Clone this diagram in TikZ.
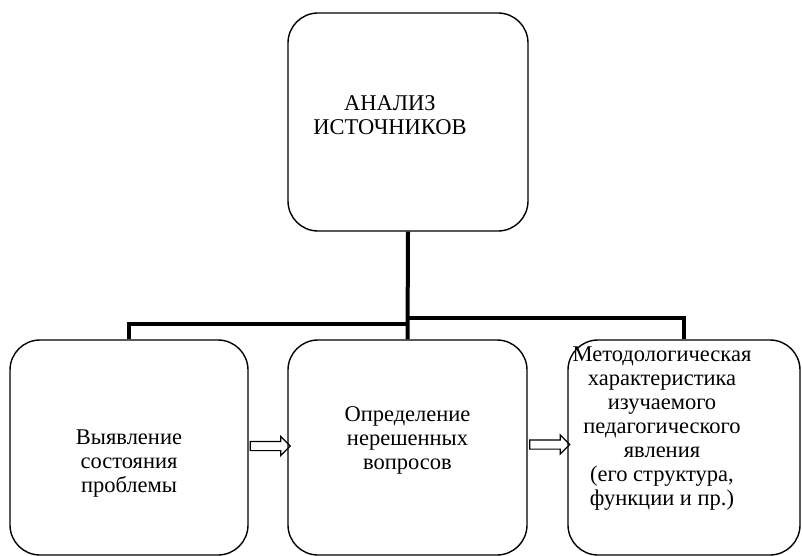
\documentclass[tikz,border=0pt]{standalone}
\usepackage{fontspec}
\setmainfont{Liberation Serif}
\usepackage{tikz}
\usetikzlibrary{arrows.meta,positioning,shapes.arrows,calc}

\begin{document}
\begin{tikzpicture}[x=1pt, y=1pt,
      box/.style={draw, line width=1.4pt, rounded corners=30pt, minimum height=218pt},
      txt/.style={align=center, font=\fontsize{22.5}{24}\selectfont},
      conn/.style={line width=4pt},
      blockarr/.style={draw, line width=1.2pt, single arrow, single arrow head extend=5pt,
        inner xsep=0pt, inner ysep=4pt, minimum height=40pt},
    ]
      \useasboundingbox (0,0) rectangle (802,-556);
      \node[box, minimum width=240pt] (src) at (408,-122) {};
      \node[box, minimum width=238pt, minimum height=215pt] (state) at (129,-447.5) {};
      \node[box, minimum width=239pt, minimum height=215pt] (open) at (407.5,-447.5) {};
      \node[box, minimum width=232pt, minimum height=215pt] (method) at (684,-447.5) {};
      \node[txt] (srctxt) at ([xshift=-18pt, yshift=7pt]src.center) {АНАЛИЗ\\ИСТОЧНИКОВ};
      \node[txt] (statetxt) at ([yshift=-16pt]state.center) {Выявление\\состояния\\проблемы};
      \node[txt] (opentxt) at ([yshift=7pt]open.center) {Определение\\нерешенных\\вопросов};
      \node[txt] (methodtxt) at ([xshift=-22pt, yshift=19pt]method.center) {Методологическая\\характеристика\\изучаемого\\педагогического\\явления\\(его структура,\\функции и пр.)};
      \node[blockarr] (arr1) at ($(state.east)!0.5!(open.west)+(0,1.5)$) {};
      \node[blockarr] (arr2) at ($(open.east)!0.5!(method.west)+(0,3)$) {};
      \draw[conn] (src.south) -- (open.north);
      \draw[conn] ([yshift=-86pt]src.south) -| (method.north);
      \draw[conn] ([yshift=-92pt]src.south) -| (state.north);
    \end{tikzpicture}
\end{document}
